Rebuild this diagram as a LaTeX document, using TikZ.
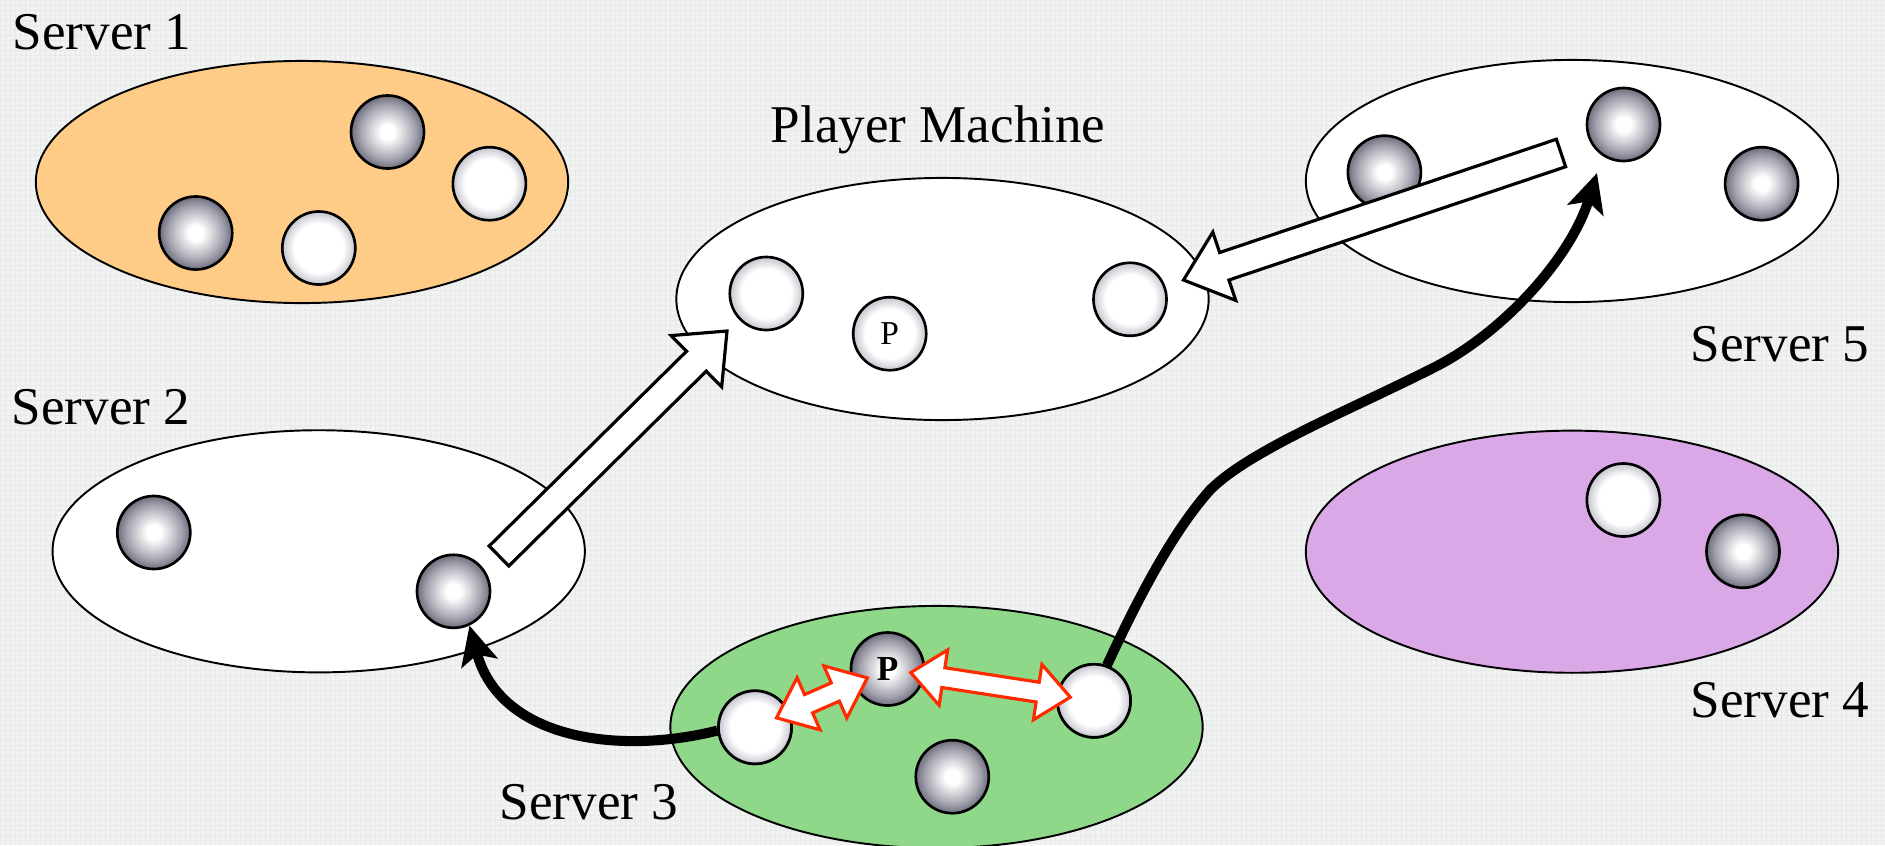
\documentclass[tikz,border=0pt]{standalone}
\usepackage{fontspec}
\setmainfont{Liberation Serif}
\usetikzlibrary{shapes.geometric,calc,arrows.meta}
\definecolor{bgcol}{RGB}{241,242,242}
\definecolor{gridcol}{RGB}{232,234,234}
\definecolor{s1col}{RGB}{255,204,136}
\definecolor{s3col}{RGB}{143,216,138}
\definecolor{s4col}{RGB}{218,168,230}
\definecolor{redcol}{RGB}{255,42,0}
\definecolor{ballout}{RGB}{108,108,124}
\definecolor{ballmid}{RGB}{162,162,174}
\definecolor{wballout}{RGB}{196,196,206}
\pgfdeclareradialshading{grayball}{\pgfpoint{0bp}{0bp}}{color(0bp)=(white); color(5bp)=(white); color(19bp)=(ballmid); color(25bp)=(ballout); color(50bp)=(ballout)}
\pgfdeclareradialshading{whiteball}{\pgfpoint{0bp}{0bp}}{color(0bp)=(white); color(17bp)=(white); color(25bp)=(wballout); color(50bp)=(wballout)}
\newcommand{\blockarr}[6]{%
  \coordinate (ba-h) at ($(#3)!#6!(#2)$);
  \draw[#1] ($(#2)!#4!90:(#3)$) -- ($(ba-h)!#4!90:(#3)$) -- ($(ba-h)!#5!90:(#3)$) -- (#3)
    -- ($(ba-h)!#5!-90:(#3)$) -- ($(ba-h)!#4!-90:(#3)$) -- ($(#2)!#4!-90:(#3)$) -- cycle;
}
\newcommand{\dblarr}[6]{%
  \coordinate (da-a) at ($(#2)!#6!(#3)$);
  \coordinate (da-b) at ($(#3)!#6!(#2)$);
  \draw[#1] (#2) -- ($(da-a)!#5!90:(#3)$) -- ($(da-a)!#4!90:(#3)$) -- ($(da-b)!#4!-90:(#2)$)
    -- ($(da-b)!#5!-90:(#2)$) -- (#3) -- ($(da-b)!#5!90:(#2)$) -- ($(da-b)!#4!90:(#2)$)
    -- ($(da-a)!#4!-90:(#3)$) -- ($(da-a)!#5!-90:(#3)$) -- cycle;
}
\tikzset{
  server/.style={ellipse, draw, line width=0.55pt, minimum width=5.32cm, minimum height=2.42cm, inner sep=0pt},
  gball/.style={circle, draw, line width=0.75pt, minimum size=0.73cm, inner sep=0pt, shade, shading=grayball},
  wball/.style={circle, draw, line width=0.75pt, minimum size=0.73cm, inner sep=0pt, shade, shading=whiteball},
  lbl/.style={anchor=base west, inner sep=0pt, font=\fontsize{15.1pt}{18pt}\selectfont},
  curvearrow/.style={line width=2.85pt, -{Stealth[length=11pt,width=10.5pt,inset=2.5pt]}},
  bigarrow/.style={draw=black, fill=white, line width=0.9pt, line join=miter},
  redarrow/.style={draw=redcol, fill=white, line width=0.9pt, line join=miter}
}
\begin{document}
\begin{tikzpicture}[x=0.01cm,y=-0.01cm]
\useasboundingbox (0,0) rectangle (1885,845);
\fill[bgcol] (0,0) rectangle (1885,845);
\draw[gridcol, line width=0.12pt, step=0.05cm] (0,0) grid (1885,845);

% servers
\node[server, fill=s1col] (s1) at (302,182) {};
\node[server, fill=white] (pm) at (942.5,299) {};
\node[server, fill=white] (s5) at (1572,181) {};
\node[server, fill=white] (s2) at (318.7,551.3) {};
\node[server, fill=s4col] (s4) at (1572,551.7) {};
\node[server, fill=s3col] (s3) at (936.5,727) {};

% balls
\node[gball] (b1a) at (387.5,132) {};
\node[wball] (b1b) at (489.4,183.7) {};
\node[gball] (b1c) at (195.7,233) {};
\node[wball] (b1d) at (318.8,248) {};

\node[wball] (pml) at (766.3,293.5) {};
\node[wball, font=\fontsize{9.5pt}{11pt}\selectfont] (pmp) at (889.7,333.7) {P};
\node[wball] (pmr) at (1130,299.3) {};

\node[gball] (b5l) at (1384.4,172.2) {};
\node[gball] (b5m) at (1623.5,124.5) {};
\node[gball] (b5r) at (1761.6,183.7) {};

\node[gball] (b2l) at (153.8,532.5) {};
\node[gball] (b2r) at (453.5,591.3) {};

\node[wball] (b4w) at (1623.4,500) {};
\node[gball] (b4g) at (1743,551.3) {};

\node[gball] (b3g) at (952.3,776.7) {};
\node[wball] (b3l) at (755,727.3) {};
\node[gball, font=\bfseries\fontsize{10pt}{11pt}\selectfont] (b3p) at (887.5,669) {P};
\node[wball] (b3r) at (1094,700.8) {};

% black curved arrows
\coordinate (c2e) at ($(b5m)+(-26.5,48.5)$);
\draw[curvearrow] (b3l.185) .. controls (620,755) and (500,740) .. (b2r.295);
\draw[curvearrow] (b3r.70) .. controls (1135,605) and (1170,535) .. (1210,490)
  .. controls (1250,450) and (1350,410) .. (1433,368)
  .. controls (1500,335) and (1570,260) .. (c2e);
% balls back on top of the curve starts
\node[wball] at (b3l) {};
\node[wball] at (b3r) {};

% big block arrows
\coordinate (a1t) at (499,556);
\coordinate (a1h) at (727,331);
\blockarr{bigarrow}{a1t}{a1h}{0.14cm}{0.36cm}{0.43cm}
\coordinate (a2t) at (1561,153);
\coordinate (a2h) at (1183.5,280);
\blockarr{bigarrow}{a2t}{a2h}{0.145cm}{0.36cm}{0.43cm}

% red double arrows
\coordinate (r1a) at ($(b3l)!0.235cm!(b3p)$);
\coordinate (r1b) at ($(b3p)!0.22cm!(b3l)$);
\dblarr{redarrow}{r1a}{r1b}{0.10cm}{0.285cm}{0.35cm}
\coordinate (r2a) at ($(b3p)!0.235cm!(b3r)$);
\coordinate (r2b) at ($(b3r)!0.24cm!(b3p)$);
\dblarr{redarrow}{r2a}{r2b}{0.10cm}{0.28cm}{0.33cm}

% labels
\node[lbl] (t1) at (12,49) {Server 1};
\node[lbl] (t2) at (11,424) {Server 2};
\node[lbl] (t3) at (499,819) {Server 3};
\node[lbl] (t4) at (1690,717) {Server 4};
\node[lbl] (t5) at (1690,361) {Server 5};
\node[lbl] (tp) at (770,142) {Player Machine};
\end{tikzpicture}
\end{document}
